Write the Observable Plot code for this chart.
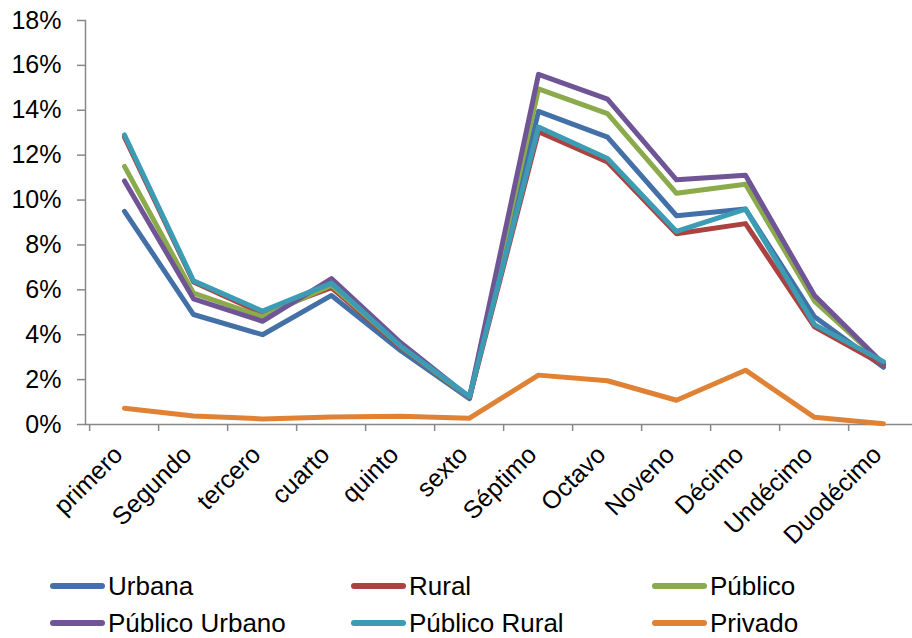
<!DOCTYPE html>
<html>
<head>
<meta charset="utf-8">
<script src="https://cdn.jsdelivr.net/npm/d3@7"></script>
<script src="https://cdn.jsdelivr.net/npm/@observablehq/plot@0.6"></script>
<style>
  body { margin: 0; background: #fff; font-family: "Liberation Sans", Arial, sans-serif; }
  #wrap { position: relative; width: 912px; height: 638px; overflow: hidden; }
  #legend { position: absolute; left: 0; top: 560px; width: 912px; height: 78px; }
  .item { position: absolute; display: flex; align-items: center; font-family: "Liberation Sans", Arial, sans-serif; font-size: 26px; color: #000; }
  .sw { width: 55px; height: 6px; border-radius: 3px; margin-right: 3px; }
  .lbl { white-space: nowrap; }
</style>
</head>
<body>
<div id="wrap"><div id="chart"></div><div id="legend"></div></div>
<script>
const categories = ["primero","Segundo","tercero","cuarto","quinto","sexto","Séptimo","Octavo","Noveno","Décimo","Undécimo","Duodécimo"];
const seriesNames = ["Urbana","Rural","Público","Público Urbano","Público Rural","Privado"];
const seriesColors = ["#4470a8","#ac4240","#8aaa4c","#6f5595","#3b9cb4","#df8236"];
const urbana        = [9.5, 4.9, 4.0, 5.75, 3.3, 1.15, 13.95, 12.8, 9.3, 9.6, 4.8, 2.55];
const rural         = [12.8, 6.35, 4.95, 6.1, 3.45, 1.2, 13.05, 11.7, 8.5, 8.95, 4.35, 2.65];
const publico       = [11.5, 5.85, 4.8, 6.2, 3.5, 1.2, 14.95, 13.85, 10.3, 10.7, 5.5, 2.7];
const publicoUrbano = [10.85, 5.6, 4.6, 6.5, 3.65, 1.2, 15.6, 14.5, 10.9, 11.1, 5.75, 2.7];
const publicoRural  = [12.9, 6.4, 5.05, 6.3, 3.5, 1.25, 13.25, 11.85, 8.6, 9.6, 4.45, 2.8];
const privado       = [0.72, 0.38, 0.25, 0.33, 0.37, 0.28, 2.2, 1.95, 1.08, 2.42, 0.32, 0.03];
const yTicks = [0, 2, 4, 6, 8, 10, 12, 14, 16, 18];

const seriesValues = [urbana, rural, publico, publicoUrbano, publicoRural, privado];
const data = seriesNames.flatMap((s, i) => categories.map((c, j) => ({series: s, cat: c, value: seriesValues[i][j] / 100})));

const step = (922 - 85) / categories.length;
const chart = Plot.plot({
  width: 912,
  height: 560,
  marginLeft: 85,
  marginRight: 0,
  marginTop: 20,
  marginBottom: 136,
  style: {fontFamily: "'Liberation Sans', Arial, sans-serif", fontSize: "25px", color: "#000", background: "#fff"},
  x: {type: "point", domain: categories, range: [85, 922], padding: 0.5},
  y: {domain: [0, 0.18]},
  color: {domain: seriesNames, range: seriesColors},
  marks: [
    Plot.ruleY([0], {stroke: "#888", strokeWidth: 1.5}),
    Plot.frame({anchor: "left", stroke: "#888", strokeWidth: 1.5}),
    Plot.axisY({ticks: yTicks.map(v => v / 100), tickSize: 8, tickPadding: 16, stroke: "#888", strokeWidth: 1.5, tickFormat: d3.format(".0%"), fontSize: 25, label: null}),
    Plot.axisX({ticks: categories, tickSize: 7, dx: -step / 2, stroke: "#888", strokeWidth: 1.5, tickFormat: () => "", label: null}),
    Plot.axisX({ticks: categories, tickSize: 0, tickPadding: 26, tickRotate: -45, fontSize: 25, dx: -6, label: null}),
    Plot.line(data, {x: "cat", y: "value", z: "series", stroke: "series", strokeWidth: 5, strokeLinecap: "round", strokeLinejoin: "round"})
  ]
});
document.getElementById("chart").appendChild(chart);

const legend = document.getElementById("legend");
const colX = [50, 351, 652];
const rowY = [26, 63];
seriesNames.forEach((s, i) => {
  const d = document.createElement("div");
  d.className = "item";
  d.style.left = colX[i % 3] + "px";
  d.style.top = (rowY[Math.floor(i / 3)] - 16) + "px";
  d.style.height = "32px";
  d.innerHTML = `<span class="sw" style="background:${seriesColors[i]}"></span><span class="lbl">${s}</span>`;
  legend.appendChild(d);
});
</script>
</body>
</html>
